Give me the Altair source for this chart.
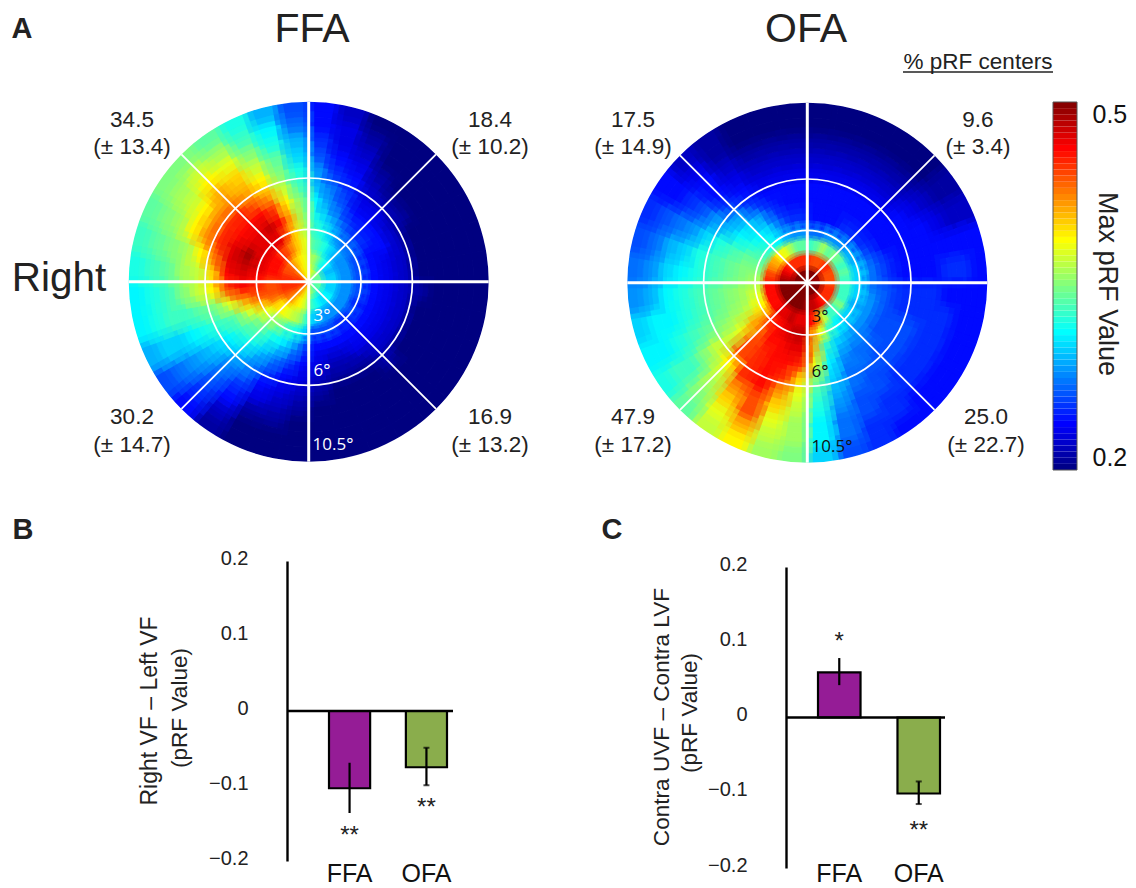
import altair as alt
import pandas as pd

# Heat values (hundredths of pRF value); one list per 10-degree sector clockwise from 12 o'clock,
# each with 12 rings from the centre out.
FFA_GRID = [
 [38,36,34,33,32,31,29,28,26,25,24,24],[38,36,33,32,30,28,27,25,24,23,23,22],[37,34,32,30,28,26,25,24,23,22,21,20],
 [36,32,30,28,26,24,23,22,21,20,20,20],[35,31,29,27,25,24,23,21,20,20,20,20],[35,30,28,27,25,24,22,21,20,20,20,20],
 [34,29,28,26,24,24,22,20,20,20,20,20],[34,30,28,26,24,23,22,20,20,20,20,20],[34,30,28,26,24,23,22,20,20,20,20,20],
 [34,30,28,26,24,23,22,21,20,20,20,20],[34,30,28,26,24,23,22,20,20,20,20,20],[34,30,28,25,24,23,22,20,20,20,20,20],
 [34,31,28,26,24,23,22,20,20,20,20,20],[33,31,28,25,24,23,22,21,20,20,20,20],[33,30,28,25,24,23,21,20,20,20,20,20],
 [34,31,28,26,24,22,21,20,20,20,20,20],[35,32,29,26,24,22,21,20,20,20,20,20],[36,33,30,26,24,23,22,21,20,20,20,20],
 [37,36,33,30,26,24,23,22,21,20,20,20],[38,38,36,32,29,26,24,23,22,21,20,20],[40,39,37,33,31,28,26,24,23,21,20,20],
 [41,40,38,35,32,30,28,27,25,24,22,21],[42,42,39,36,34,32,30,28,27,26,25,24],[43,43,40,38,35,33,31,30,29,28,27,26],
 [44,44,43,41,38,34,33,32,31,30,30,29],[45,45,44,44,42,38,35,34,33,33,32,31],[45,45,44,45,46,44,39,37,35,33,32,31],
 [45,45,45,46,47,46,40,37,36,34,33,32],[45,45,46,47,48,47,43,39,36,35,34,33],[44,44,46,47,49,47,45,42,39,36,35,34],
 [44,44,46,47,47,46,45,42,39,37,36,35],[42,43,45,47,47,46,45,42,41,39,37,35],[40,41,44,47,48,46,43,41,40,38,36,34],
 [40,40,42,44,46,44,41,39,37,35,33,32],[39,39,40,40,41,39,37,35,34,32,31,29],[38,38,38,37,36,35,33,32,30,29,27,26],
]
OFA_GRID = [
 [50,45,33,27,24,24,24,23,22,21,20,20],[50,44,34,27,24,24,24,23,22,21,20,20],[50,44,36,28,24,24,24,23,22,21,20,20],
 [50,44,34,28,25,24,24,23,22,21,20,20],[50,45,35,28,25,24,24,23,22,21,20,20],[50,45,34,29,25,24,24,24,23,22,21,21],
 [49,44,33,29,26,24,24,24,24,23,22,22],[49,44,34,30,27,25,24,24,24,24,24,24],[49,44,33,30,27,25,24,24,24,25,25,24],
 [50,44,33,30,27,26,25,25,25,24,24,24],[50,45,33,30,28,26,25,25,25,25,24,24],[50,45,33,29,28,26,26,26,25,25,24,24],
 [50,45,35,30,28,26,26,26,25,25,24,24],[50,45,33,30,28,27,26,26,25,25,24,24],[50,46,33,31,29,27,27,26,26,25,25,24],
 [50,47,37,33,30,28,27,27,26,26,25,25],[50,48,43,38,33,31,30,29,28,27,27,26],[50,48,46,42,41,38,35,33,32,31,31,30],
 [50,49,47,48,47,45,40,38,37,36,36,35],[50,50,47,48,47,46,45,42,40,38,37,36],[50,50,48,47,46,46,46,46,44,44,41,39],
 [50,50,47,46,46,45,45,45,42,40,38,37],[50,50,47,45,43,44,44,39,37,36,35,34],[50,50,46,41,41,38,37,37,35,33,33,32],
 [50,50,46,39,37,36,35,34,33,32,31,31],[50,50,46,38,36,35,34,33,32,31,31,30],[50,50,46,37,36,35,34,33,32,31,29,28],
 [50,49,45,36,35,34,33,32,31,30,28,27],[50,48,44,35,35,34,33,32,30,29,27,26],[50,47,42,34,34,33,32,30,28,27,26,25],
 [50,46,41,33,32,31,29,28,26,25,24,24],[50,45,39,32,31,30,28,25,24,24,23,22],[50,45,38,31,30,28,25,24,23,22,21,21],
 [50,45,36,29,27,25,24,23,22,21,20,20],[50,45,34,28,25,24,24,23,22,21,20,20],[50,45,34,28,25,24,24,23,22,21,20,20],
]
COLORBAR_LEVELS = [20,20.5,21,21.5,22,22.5,23,23.5,24,24.5,25,25.5,26,26.5,27,27.5,28,28.5,29,29.5,
                   30,30.5,31,31.5,32,32.5,33,33.5,34,34.5,35,35.5,36,36.5,37,37.5,38,38.5,39,39.5,
                   40,40.5,41,41.5,42,42.5,43,43.5,44,44.5,45,45.5,46,46.5,47,47.5,48,48.5,49,49.5]
SPOKES_THICK = [0, 90, 180, 270]
SPOKES_THIN = [45, 135, 225, 315]
RING_DEGREES = [3, 6]
DISC_RADIUS_DEG = 10.5

NAMES = ["FFA", "OFA"]
B_VALUES = [-0.103, -0.075]
B_ERR_LOW = [-0.136, -0.099]
B_ERR_HIGH = [-0.069, -0.049]
B_STARS = [-0.161, -0.124]
B_STAR_TEXT = ["**", "**"]
C_VALUES = [0.060, -0.101]
C_ERR_LOW = [0.043, -0.115]
C_ERR_HIGH = [0.079, -0.085]
C_STARS = [0.105, -0.145]
C_STAR_TEXT = ["*", "**"]
TICKS = [-0.2, -0.1, 0, 0.1, 0.2]
COLOR_STOPS = [0.2, 0.2375, 0.3125, 0.3875, 0.4625, 0.5]
COLOR_RANGE = ["#000080", "#0000ff", "#00ffff", "#ffff00", "#ff0000", "#800000"]
BAR_COLORS = ["#951c96", "#8aad4c"]

FONT = "Liberation Sans"
OFF = 8  # page margin
W, H = 1120, 880

color_scale = alt.Scale(domain=COLOR_STOPS, range=COLOR_RANGE, interpolate="rgb")
theta_scale = alt.Scale(domain=[0, 360], range=[0, 6.283185307179586])
radius_scale = alt.Scale(type="linear", domain=[0, DISC_RADIUS_DEG], range=[0, 180])


def disc(grid, cx, cy):
    rows = []
    step = DISC_RADIUS_DEG / len(grid[0])
    for s, sector in enumerate(grid):
        for k, v in enumerate(sector):
            rows.append(dict(t0=s * 10, t1=(s + 1) * 10, r0=k * step, r1=(k + 1) * step, k=k, v=v / 100))
    data = pd.DataFrame(rows)
    pos = dict(
        x=alt.value(cx - OFF), y=alt.value(cy - OFF),
        theta=alt.Theta("t0:Q", scale=theta_scale, stack=False),
        theta2="t1:Q",
        radius=alt.Radius("r0:Q", scale=radius_scale),
        radius2="r1:Q",
    )
    heat = alt.Chart(data).mark_arc(strokeWidth=0.8).encode(
        fill=alt.Fill("v:Q", scale=color_scale, legend=None),
        stroke=alt.Stroke("v:Q", scale=color_scale, legend=None),
        **pos,
    )
    soft_out = alt.Chart(data).transform_filter("datum.k >= 4").mark_arc(
        fillOpacity=0, strokeWidth=11, strokeOpacity=0.3).encode(
        stroke=alt.Stroke("v:Q", scale=color_scale, legend=None),
        **pos,
    )
    soft_in = alt.Chart(data).transform_filter("datum.k < 4").mark_arc(
        fillOpacity=0, strokeWidth=5, strokeOpacity=0.3).encode(
        stroke=alt.Stroke("v:Q", scale=color_scale, legend=None),
        **pos,
    )

    def annulus(radii, width):
        return alt.Chart(pd.DataFrame(dict(r=radii, w=[width] * len(radii)))).transform_calculate(
            r1="datum.r + datum.w", t0="0", t1="360"
        ).mark_arc(fill="white", stroke=None).encode(
            x=alt.value(cx - OFF), y=alt.value(cy - OFF),
            theta=alt.Theta("t0:Q", scale=theta_scale, stack=False),
            theta2="t1:Q",
            radius=alt.Radius("r:Q", scale=radius_scale),
            radius2="r1:Q",
        )

    xs = alt.Scale(domain=[-DISC_RADIUS_DEG, DISC_RADIUS_DEG], range=[cx - 180 - OFF, cx + 180 - OFF])
    ys = alt.Scale(domain=[-DISC_RADIUS_DEG, DISC_RADIUS_DEG], range=[cy + 180 - OFF, cy - 180 - OFF])

    def spokes(angles, width):
        rows = []
        for a in angles:
            rows.append(dict(a=a, r=0))
            rows.append(dict(a=a, r=DISC_RADIUS_DEG))
        return alt.Chart(pd.DataFrame(rows)).transform_calculate(
            px="datum.r * sin(datum.a * PI / 180)", py="datum.r * cos(datum.a * PI / 180)"
        ).mark_line(color="white", strokeWidth=width).encode(
            x=alt.X("px:Q", scale=xs, axis=None),
            y=alt.Y("py:Q", scale=ys, axis=None),
            detail="a:N", order="r:Q",
        )

    return [heat, soft_out, soft_in, annulus([DISC_RADIUS_DEG], 0.6), annulus(RING_DEGREES, 0.1),
            spokes(SPOKES_THIN, 1.8), spokes(SPOKES_THICK, 3)]


def colorbar():
    ys = alt.Scale(domain=[0.2, 0.5], range=[470 - OFF, 102 - OFF])
    df = pd.DataFrame(dict(lv=[v / 100 for v in COLORBAR_LEVELS]))
    rects = alt.Chart(df).transform_calculate(top="datum.lv + 0.005", mid="datum.lv + 0.0025").mark_rect().encode(
        x=alt.value(1053 - OFF), x2=alt.value(1077 - OFF),
        y=alt.Y("lv:Q", scale=ys, axis=alt.Axis(
            orient="right", offset=1077 - OFF - W, values=[0.2, 0.5], format=".1f", ticks=False, domain=False,
            grid=False, title=None, labelFontSize=25, labelFont=FONT, labelColor="#111", labelPadding=15,
            labelFlush=True)),
        y2="top:Q",
        fill=alt.Fill("mid:Q", scale=color_scale, legend=None),
    )
    frame = alt.Chart(pd.DataFrame(dict(a=[0.2], b=[0.5]))).mark_rect(
        fillOpacity=0, stroke="#555", strokeWidth=1).encode(
        x=alt.value(1053 - OFF), x2=alt.value(1077 - OFF),
        y=alt.Y("a:Q", scale=ys, axis=None), y2="b:Q",
    )
    return [rects, frame]


def tick_axis(offset):
    return alt.Axis(
        orient="left", offset=offset, values=TICKS, ticks=False, grid=False, title=None,
        domainColor="black", domainWidth=2.4, labelPadding=39, labelFontSize=20, labelFont=FONT,
        labelColor="#222", labelOffset=-3,
        labelExpr="datum.value == 0 ? '0' : replace(format(datum.value, '.1f'), '-', '–')",
    )


def bars(values, low, high, stars, star_text, xr, yr, ax_x, z0, z1):
    df = pd.DataFrame(dict(n=NAMES, v=values, lo=low, hi=high, s=stars, t=star_text))
    xs = alt.Scale(type="band", domain=NAMES, range=[xr[0] - OFF, xr[1] - OFF], paddingInner=0.465, paddingOuter=0)
    ys = alt.Scale(domain=[-0.2, 0.2], range=[yr[0] - OFF, yr[1] - OFF])
    base = alt.Chart(df)
    bar = base.mark_bar(stroke="black", strokeWidth=2.2).encode(
        x=alt.X("n:N", scale=xs, sort=NAMES, axis=alt.Axis(
            orient="bottom", offset=-27, title=None, domain=False, ticks=False, labelAngle=0,
            labelFontSize=25, labelFont=FONT, labelColor="#111", labelPadding=0)),
        y=alt.Y("v:Q", scale=ys, axis=tick_axis(-(ax_x - OFF))),
        color=alt.Color("n:N", scale=alt.Scale(domain=NAMES, range=BAR_COLORS), legend=None),
    )
    zero = alt.Chart(pd.DataFrame(dict(z=[0]))).mark_rule(color="black", strokeWidth=2.4).encode(
        y=alt.Y("z:Q", scale=ys, axis=None), x=alt.value(z0 - OFF), x2=alt.value(z1 - OFF))
    err = base.mark_rule(color="black", strokeWidth=2.2).encode(
        x=alt.X("n:N", scale=xs, sort=NAMES, axis=None),
        y=alt.Y("lo:Q", scale=ys, axis=None), y2="hi:Q")
    caps = []
    for field in ["lo", "hi"]:
        caps.append(base.transform_filter("datum.n == 'OFA'").mark_tick(
            orient="horizontal", color="black", size=6, thickness=2).encode(
            x=alt.X("n:N", scale=xs, sort=NAMES, axis=None),
            y=alt.Y(field + ":Q", scale=ys, axis=None)))
    star = base.mark_text(font=FONT, fontSize=24, color="#222", baseline="middle", dy=4).encode(
        x=alt.X("n:N", scale=xs, sort=NAMES, axis=None),
        y=alt.Y("s:Q", scale=ys, axis=None), text="t:N")
    return [bar, zero, err] + caps + [star]


def label(text, x, y, size=20, weight="normal", angle=0, color="#222", font=FONT):
    return alt.Chart(pd.DataFrame(dict(t=[text]))).mark_text(
        font=font, fontSize=size, fontWeight=weight, color=color, angle=angle,
        align="center", baseline="middle", x=x - OFF, y=y - OFF,
    ).encode(text="t:N")


N = 22.5
texts = [
    ("A", 22, 29, 29, "bold", 0), ("B", 23, 530, 29, "bold", 0), ("C", 612, 530, 29, "bold", 0),
    ("FFA", 312, 30, 41, "normal", 0), ("OFA", 806, 30, 41, "normal", 0), ("Right", 59, 279, 40.5, "normal", 0),
    ("% pRF centers", 978, 62, 22.5, "normal", 0),
    ("34.5", 132, 120, N, "normal", 0), ("(± 13.4)", 132, 147, N, "normal", 0),
    ("18.4", 490, 120, N, "normal", 0), ("(± 10.2)", 490, 147, N, "normal", 0),
    ("30.2", 132, 417, N, "normal", 0), ("(± 14.7)", 132, 445, N, "normal", 0),
    ("16.9", 490, 417, N, "normal", 0), ("(± 13.2)", 490, 445, N, "normal", 0),
    ("17.5", 633, 120, N, "normal", 0), ("(± 14.9)", 633, 147, N, "normal", 0),
    ("9.6", 978, 120, N, "normal", 0), ("(± 3.4)", 978, 147, N, "normal", 0),
    ("47.9", 633, 417, N, "normal", 0), ("(± 17.2)", 633, 445, N, "normal", 0),
    ("25.0", 986, 417, N, "normal", 0), ("(± 22.7)", 986, 445, N, "normal", 0),
    ("Max  pRF Value", 1107, 284, 27, "normal", 90),
    ("Right VF – Left VF", 150, 711, 23, "normal", 270), ("(pRF Value)", 180, 708, 22.6, "normal", 270),
    ("Contra UVF – Contra LVF", 662, 717, 22.6, "normal", 270), ("(pRF Value)", 690, 713, 22.6, "normal", 270),
]
text_layers = [label(t, x, y, s, w, a) for t, x, y, s, w, a in texts]

deg_layers = [
    label("3°", 322, 316, 17, color="white", font="Open Sans"),
    label("6°", 322, 371, 17, color="white", font="Open Sans"),
    label("10.5°", 333, 445, 17, color="white", font="Open Sans"),
    label("3°", 820, 317, 17, color="#111", font="Open Sans"),
    label("6°", 820, 372, 17, color="#111", font="Open Sans"),
    label("10.5°", 832, 447, 17, color="#111", font="Open Sans"),
]

underline = alt.Chart(pd.DataFrame(dict(z=[0]))).mark_rule(color="#222", strokeWidth=1.4).encode(
    x=alt.value(903 - OFF), x2=alt.value(1053 - OFF), y=alt.value(72 - OFF))

layers = (
    disc(FFA_GRID, 308.7, 281.7)
    + disc(OFA_GRID, 807.3, 282.7)
    + colorbar()
    + bars(B_VALUES, B_ERR_LOW, B_ERR_HIGH, B_STARS, B_STAR_TEXT, (329, 447), (861, 561), 287, 287, 453)
    + bars(C_VALUES, C_ERR_LOW, C_ERR_HIGH, C_STARS, C_STAR_TEXT, (818, 940), (868, 567), 786, 786, 945)
    + text_layers + deg_layers + [underline]
)

chart = alt.layer(*layers).resolve_scale(x="independent", y="independent").properties(
    width=W, height=H, padding=0, autosize=alt.AutoSizeParams(type="none"), background="white",
).configure_view(stroke=None)

chart.save("out.html", embed_options={"renderer": "svg", "actions": False})
